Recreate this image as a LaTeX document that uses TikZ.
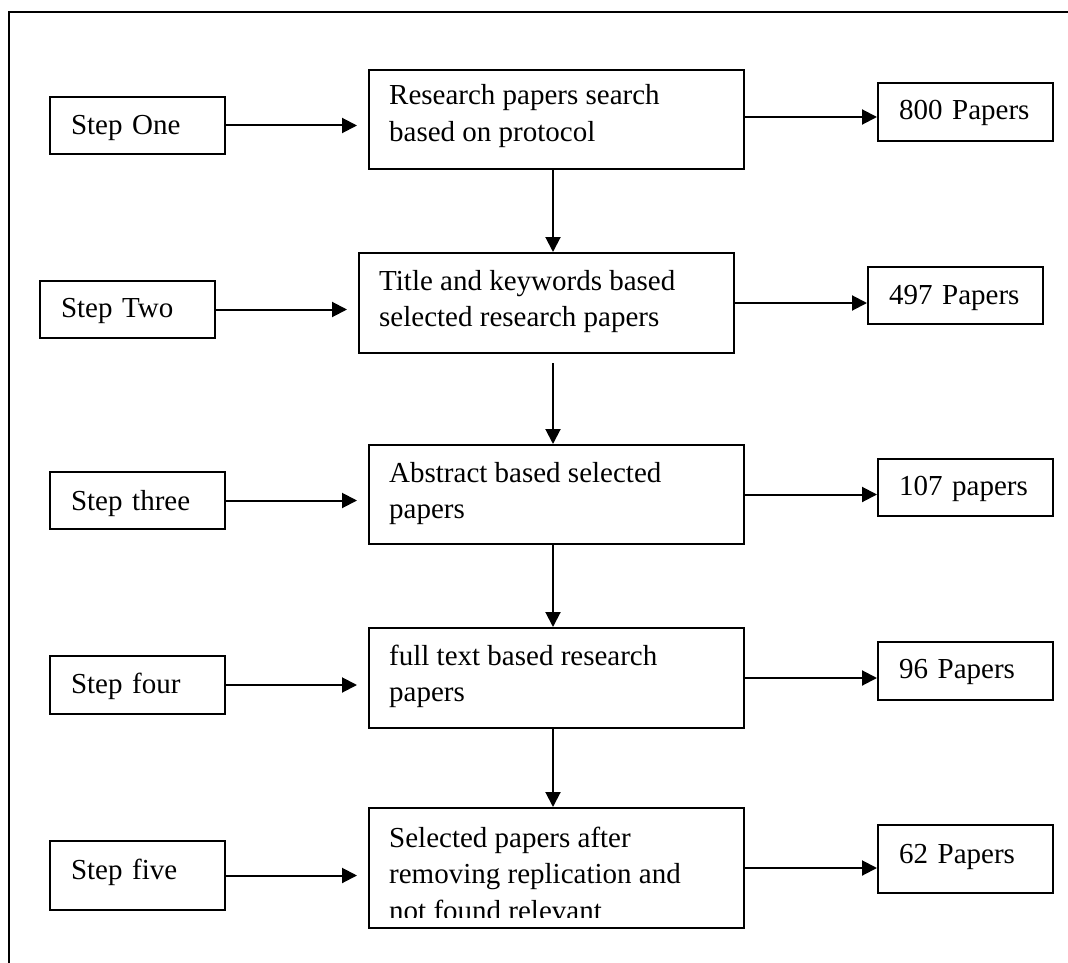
\documentclass[tikz,border=0pt]{standalone}
\usepackage{fontspec}
\setmainfont{Liberation Serif}
\usetikzlibrary{arrows.meta}
\begin{document}
\begin{tikzpicture}[x=1pt,y=1pt,
  font=\fontsize{29}{36.5}\selectfont,
  box/.style={draw, line width=2pt, inner sep=0pt},
  smallbox/.style={box, minimum width=175pt, text width=133pt, align=left,
    inner xsep=21pt, text height=19pt, text depth=0pt},
  bigbox/.style={box, minimum width=375pt},
  boxtext/.style={anchor=base west, inner sep=0pt},
  arr/.style={line width=2pt, -{Triangle[length=15pt,width=15pt]}}]
\useasboundingbox (0,0) rectangle (1068,-963);
% frame
\draw[line width=2pt] (9,-963) -- (9,-12) -- (1068,-12);
% step boxes
\node[smallbox, minimum height=57pt] (s1) at (137.5,-125.5) {Step One};
\node[smallbox, minimum height=57pt, text depth=4pt] (s2) at (127.5,-309.5) {Step Two};
\node[smallbox, minimum height=57pt] (s3) at (137.5,-500.5) {Step three};
\node[smallbox, minimum height=58pt, text depth=3pt] (s4) at (137.5,-685) {Step four};
\node[smallbox, minimum height=69pt, text depth=12pt] (s5) at (137.5,-875.5) {Step five};
% middle boxes
\node[bigbox, minimum height=99pt] (b1) at (556.5,-119.5) {};
\node[bigbox, minimum height=100pt] (b2) at (546.5,-303) {};
\node[bigbox, minimum height=99pt] (b3) at (556.5,-494.5) {};
\node[bigbox, minimum height=100pt] (b4) at (556.5,-678) {};
\node[bigbox, minimum height=120pt] (b5) at (556.5,-868) {};
\node[boxtext] (t1) at (389,-105) {\vtop{\hbox{Research papers search}\hbox{based on protocol}}};
\node[boxtext] (t2) at (379,-290) {\vtop{\hbox{Title and keywords based}\hbox{selected research papers}}};
\node[boxtext] (t3) at (389,-482) {\vtop{\hbox{Abstract based selected}\hbox{papers}}};
\node[boxtext] (t4) at (389,-665) {\vtop{\hbox{full text based research}\hbox{papers}}};
\begin{scope}
\clip (371,-810) rectangle (742,-917);
\node[boxtext] (t5) at (389,-847) {\vtop{\hbox{Selected papers after}\hbox{removing replication and}\hbox{not found relevant}}};
\end{scope}
% result boxes
\node[smallbox, minimum height=58pt, text depth=3pt] (r1) at (965.5,-112) {800 Papers};
\node[smallbox, minimum height=57pt, text depth=2pt] (r2) at (955.5,-295.5) {497 Papers};
\node[smallbox, minimum height=57pt, text depth=4pt] (r3) at (965.5,-487.5) {107 papers};
\node[smallbox, minimum height=58pt, text depth=5pt] (r4) at (965.5,-671) {96 Papers};
\node[smallbox, minimum height=68pt, text depth=11pt] (r5) at (965.5,-859) {62 Papers};
% step arrows
\draw[arr, shorten >=11pt] (s1.east) -- (s1.east -| b1.west);
\draw[arr, shorten >=11pt] (s2.east) -- (s2.east -| b2.west);
\draw[arr, shorten >=11pt] (s3.east) -- (s3.east -| b3.west);
\draw[arr, shorten >=11pt] (s4.east) -- (s4.east -| b4.west);
\draw[arr, shorten >=11pt] (s5.east) -- (s5.east -| b5.west);
% result arrows
\draw[arr] ([yshift=2.5pt]b1.east) -- ([yshift=2.5pt]b1.east -| r1.west);
\draw[arr] (b2.east) -- (b2.east -| r2.west);
\draw[arr] (b3.east) -- (b3.east -| r3.west);
\draw[arr] (b4.east) -- (b4.east -| r4.west);
\draw[arr] (b5.east) -- (b5.east -| r5.west);
% down arrows
\draw[arr] ([xshift=-3.5pt]b1.south) -- ([xshift=-3.5pt]b1.south |- b2.north);
\draw[arr, shorten <=9pt] ([xshift=6.5pt]b2.south) -- ([xshift=6.5pt]b2.south |- b3.north);
\draw[arr] ([xshift=-3.5pt]b3.south) -- ([xshift=-3.5pt]b3.south |- b4.north);
\draw[arr] ([xshift=-3.5pt]b4.south) -- ([xshift=-3.5pt]b4.south |- b5.north);
\end{tikzpicture}
\end{document}
